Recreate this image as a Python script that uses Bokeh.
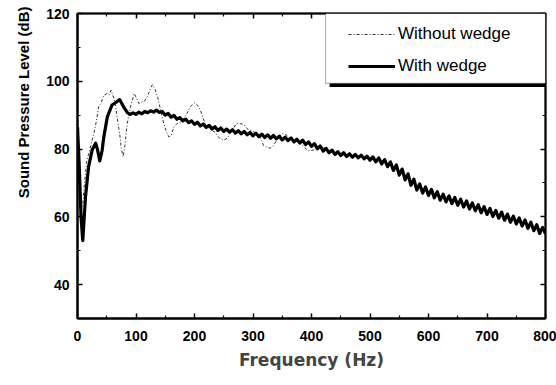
from bokeh.plotting import figure
from bokeh.models import (LinearAxis, FixedTicker, Range1d, Legend, LegendItem,
                          BoxAnnotation, Title)
from bokeh.embed import file_html
from bokeh.resources import INLINE

# ---- data ----
freq_with = [0, 3, 6, 9, 13.7, 19, 25, 31, 34, 38, 42, 45, 51, 59, 66, 72, 79, 85,
             90, 95, 100, 105, 110, 115, 120, 125, 130, 135, 140, 145, 150, 155,
             160, 165, 170, 175, 180, 185, 190, 195, 200, 205, 210, 215, 220, 225,
             230, 235, 240, 245, 250, 255, 260, 265, 270, 275, 280, 285, 290, 295,
             300, 305, 310, 315, 320, 325, 330, 335, 340, 345, 350, 355, 360, 365,
             370, 375, 380, 385, 390, 395, 400, 405, 410, 415, 420, 425, 430, 435,
             440, 445, 450, 455, 460, 465, 470, 475, 480, 485, 490, 495, 500, 505,
             510, 515, 520, 525, 530, 535, 540, 545, 550, 555, 560, 565, 570, 575,
             580, 585, 590, 595, 600, 605, 610, 615, 620, 625, 630, 635, 640, 645,
             650, 655, 660, 665, 670, 675, 680, 685, 690, 695, 700, 705, 710, 715,
             720, 725, 730, 735, 740, 745, 750, 755, 760, 765, 770, 775, 780, 785,
             790, 795, 800]
spl_with = [86.5, 75, 60, 53, 66, 74.8, 79.7, 81.7, 80, 76.5, 79.5, 83.6, 89.5, 93,
            93.8, 94.6, 92.4, 90.8,
            90.2, 90.7, 90.2, 90.9, 90.4, 91.1, 90.7, 91.3, 90.9, 91.5, 90.8, 91.1,
            90.0, 90.5, 89.4, 89.9, 88.8, 89.3, 88.3, 88.8, 87.8, 88.3, 87.3, 87.9,
            86.8, 87.4, 86.4, 87.0, 85.9, 86.6, 85.5, 86.2, 85.2, 85.9, 85.0, 85.7,
            84.7, 85.4, 84.5, 85.2, 84.2, 84.9, 83.9, 84.7, 83.6, 84.4, 83.4, 84.2,
            83.2, 84.0, 83.0, 83.8, 82.7, 83.5, 82.5, 83.3, 82.1, 82.9, 81.8, 82.6,
            81.3, 82.1, 80.8, 81.6, 80.1, 80.9, 79.4, 80.2, 78.9, 79.7, 78.4, 79.2,
            78.1, 78.9, 77.8, 78.6, 77.6, 78.4, 77.4, 78.2, 77.1, 77.9, 76.7, 77.7,
            76.2, 77.4, 75.6, 76.9, 74.8, 76.2, 73.7, 75.3, 72.3, 74.1, 70.9, 72.7,
            69.3, 71.1, 67.9, 69.7, 67.0, 68.8, 66.3, 68.1, 65.6, 67.4, 64.9, 66.7,
            64.4, 66.2, 63.9, 65.7, 63.4, 65.2, 62.9, 64.7, 62.3, 64.1, 61.8, 63.6,
            61.2, 63.0, 60.7, 62.5, 60.1, 61.9, 59.6, 61.4, 59.0, 60.8, 58.4, 60.2,
            57.9, 59.7, 57.3, 59.1, 56.6, 58.4, 55.9, 57.7, 55.1, 56.9, 55.0]

freq_without = [0, 3, 6, 9, 12, 16, 20, 24, 28, 32, 36, 40, 45, 51, 54, 57.5, 62, 65,
                68, 72, 75, 78, 81, 85, 90, 97, 101, 105, 110, 114, 119, 124, 128,
                132, 137, 142, 146, 151, 156, 160, 165, 170, 176, 181, 187, 193, 200,
                205, 210, 215, 219, 225, 230, 235, 239, 244, 250, 256, 261, 266, 272,
                278, 284, 290, 296, 302, 308, 314, 318, 324, 330, 335, 340, 346, 352,
                358, 364, 370, 376, 382, 388, 393, 398, 403, 408, 414, 420, 425]
spl_without = [84, 70, 61, 64, 70, 76.8, 79, 82, 84.6, 88, 92.4, 93.5, 95.9, 96.4, 96,
               97.4, 95, 93, 89, 84.6, 80, 77.7, 81, 87.5, 92, 96.4, 95, 93.4, 93.9,
               94, 95.4, 97.5, 99, 98, 95.4, 91.5, 88.5, 85.5, 83.6, 84, 86.6, 87.5,
               88, 89, 90.5, 92.5, 93.6, 93, 91.5, 89, 87, 86, 85.5, 85, 84, 83, 82.6,
               83.2, 84.6, 86, 87.6, 87.5, 87.3, 86, 85.5, 85, 84.5, 83, 81, 80.5,
               80.3, 81, 82.5, 84, 84.7, 84, 83, 82.5, 82, 81.5, 80.5, 79.7, 79.5,
               79.7, 80.2, 80.6, 80.5, 80.4]

x_ticks = [0, 100, 200, 300, 400, 500, 600, 700, 800]
x_minor = [50, 150, 250, 350, 450, 550, 650, 750]
y_ticks = [40, 60, 80, 100, 120]
y_minor = [30, 50, 70, 90, 110]

label_without = "Without wedge"
label_with = "With wedge"
x_title = "Frequency (Hz)"
y_title = "Sound Pressure Level (dB)"

TICK_FONT = "Liberation Sans"

p = figure(width=556, height=385, output_backend="svg", toolbar_location=None,
           x_range=Range1d(0, 800), y_range=Range1d(30, 120),
           min_border_left=77, min_border_right=11, min_border_top=13,
           min_border_bottom=67, x_axis_location=None, y_axis_location=None)
p.xgrid.visible = False
p.ygrid.visible = False
p.outline_line_color = "black"
p.outline_line_width = 2
p.background_fill_color = "white"
p.border_fill_color = "white"


def style_axis(ax, labels=True, width=2):
    ax.axis_line_color = "black"
    ax.axis_line_width = width
    ax.major_tick_in = 5
    ax.major_tick_out = 0
    ax.minor_tick_in = 3
    ax.minor_tick_out = 0
    ax.major_tick_line_width = 1.5
    ax.minor_tick_line_width = 1.2
    ax.major_tick_line_color = "black"
    ax.minor_tick_line_color = "black"
    if labels:
        ax.major_label_text_font = TICK_FONT
        ax.major_label_text_font_style = "bold"
        ax.major_label_text_font_size = "14px"
        ax.major_label_text_color = "black"
    else:
        ax.major_label_text_color = None
        ax.major_label_text_font_size = "1px"
        ax.major_label_standoff = 0


xb = LinearAxis(ticker=FixedTicker(ticks=x_ticks, minor_ticks=x_minor))
style_axis(xb)
xb.major_label_standoff = 12
xb.axis_label = x_title
xb.axis_label_text_font = "DejaVu Sans"
xb.axis_label_text_font_style = "bold"
xb.axis_label_text_font_size = "17px"
xb.axis_label_standoff = 6
p.add_layout(xb, "below")

xt = LinearAxis(ticker=FixedTicker(ticks=x_ticks, minor_ticks=x_minor))
style_axis(xt, labels=False, width=1.5)
p.add_layout(xt, "above")

yl = LinearAxis(ticker=FixedTicker(ticks=y_ticks, minor_ticks=y_minor))
style_axis(yl)
yl.major_label_standoff = 8
p.add_layout(yl, "left")

yr = LinearAxis(ticker=FixedTicker(ticks=y_ticks, minor_ticks=y_minor))
style_axis(yr, labels=False, width=1.5)
p.add_layout(yr, "right")

ytitle = Title(text=y_title, align="right", text_font=TICK_FONT,
               text_font_style="bold", text_font_size="15px",
               text_color="black", standoff=24, offset=-7)
p.add_layout(ytitle, "left")

r_without = p.line(freq_without, spl_without, line_color="#333333", line_width=1,
                   line_dash="3 2 1 2")
r_with = p.line(freq_with, spl_with, line_color="black", line_width=3.2,
                line_join="round")

# legend box with drop shadow
shadow = BoxAnnotation(left=431, right=810, bottom=98.3, top=99.4,
                       fill_color="black", fill_alpha=1, line_color=None)
box = BoxAnnotation(left=424, right=800, bottom=99.4, top=120,
                    fill_color="white", fill_alpha=1, line_color="black",
                    line_width=1.2)
p.add_layout(shadow)
p.add_layout(box)

legend = Legend(items=[LegendItem(label=label_without, renderers=[r_without]),
                       LegendItem(label=label_with, renderers=[r_with])],
                location=(271, 242), padding=0, margin=0, spacing=12,
                glyph_width=47, glyph_height=20, label_height=20,
                label_standoff=3, border_line_color=None,
                background_fill_alpha=0,
                label_text_font=TICK_FONT, label_text_font_size="17px",
                label_text_color="black")
p.add_layout(legend)

open("out.html", "w").write(file_html(p, INLINE))
